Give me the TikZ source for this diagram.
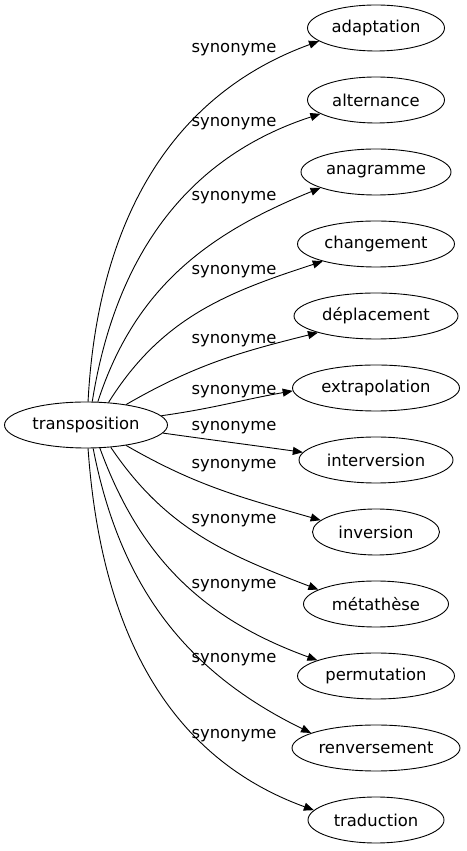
\documentclass[tikz,border=0pt]{standalone}
\usepackage{fontspec}
\setmainfont{DejaVu Sans}
\usetikzlibrary{shapes.geometric,arrows.meta}
\begin{document}
\begin{tikzpicture}[x=1pt,y=1pt,
  word/.style={ellipse,draw,line width=0.9pt,inner sep=0pt,minimum height=46pt,font=\fontsize{16.4}{20}\selectfont},
  lbl/.style={inner sep=0pt,font=\fontsize{16.4}{20}\selectfont},
  link/.style={line width=0.9pt,-{Triangle[length=10pt,width=8pt]}}]
\useasboundingbox (0,0) rectangle (466,851);
\node[word,minimum width=163pt] (t) at (86,426) {transposition};
\node[word,minimum width=137pt] (n1) at (376,823) {adaptation};
\node[word,minimum width=137pt] (n2) at (376,751) {alternance};
\node[word,minimum width=150pt] (n3) at (376,679) {anagramme};
\node[word,minimum width=157pt] (n4) at (376,607) {changement};
\node[word,minimum width=164pt] (n5) at (376,535) {déplacement};
\node[word,minimum width=167pt] (n6) at (376,463) {extrapolation};
\node[word,minimum width=154pt] (n7) at (376,391) {interversion};
\node[word,minimum width=127pt] (n8) at (376,319) {inversion};
\node[word,minimum width=145pt] (n9) at (376,247) {métathèse};
\node[word,minimum width=157pt] (n10) at (376,175) {permutation};
\node[word,minimum width=168pt] (n11) at (376,103) {renversement};
\node[word,minimum width=136pt] (n12) at (376,31) {traduction};
\node[lbl] (l1) at (234,801) {synonyme};
\node[lbl] (l2) at (234,727) {synonyme};
\node[lbl] (l3) at (234,653) {synonyme};
\node[lbl] (l4) at (234,579) {synonyme};
\node[lbl] (l5) at (234,510) {synonyme};
\node[lbl] (l6) at (234,459) {synonyme};
\node[lbl] (l7) at (234,423) {synonyme};
\node[lbl] (l8) at (234,385) {synonyme};
\node[lbl] (l9) at (234,330) {synonyme};
\node[lbl] (l10) at (234,265) {synonyme};
\node[lbl] (l11) at (234,191) {synonyme};
\node[lbl] (l12) at (234,115) {synonyme};
\draw[link] (t.85) to[out=87,in=200] (n1.193);
\draw[link] (t.75) to[out=81,in=198] (n2.194);
\draw[link] (t.63) to[out=72,in=202] (n3.196);
\draw[link] (t.45) to[out=58,in=198] (n4.198);
\draw[link] (t.27) to[out=30,in=194] (n5.196);
\draw[link] (t.7) to[out=8,in=190] (n6.182);
\draw[link] (t.-6) to[out=-8,in=172] (n7.174);
\draw[link] (t.-27) to[out=-30,in=164] (n8.168);
\draw[link] (t.-42) to[out=-56,in=159] (n9.166);
\draw[link] (t.-59) to[out=-70,in=160] (n10.165);
\draw[link] (t.-73) to[out=-79,in=154] (n11.167);
\draw[link] (t.-85) to[out=-86,in=160] (n12.171);
\end{tikzpicture}
\end{document}
